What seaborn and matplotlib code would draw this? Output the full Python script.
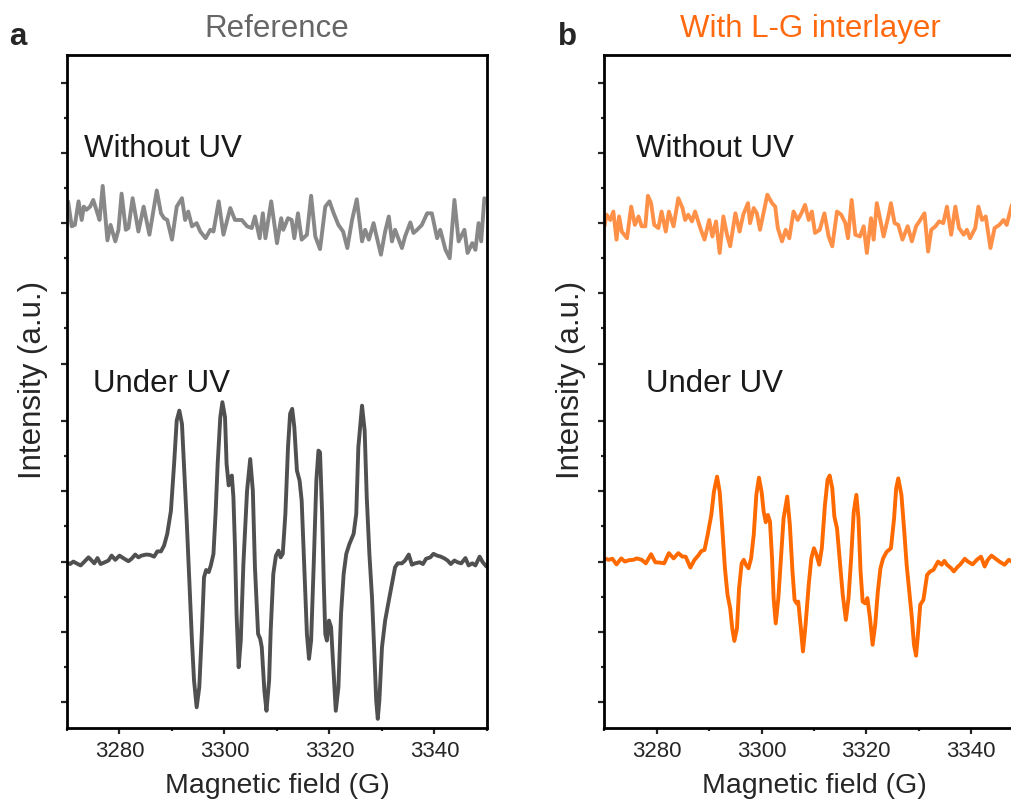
import numpy as np
import matplotlib.pyplot as plt
import seaborn as sns
from matplotlib.ticker import MultipleLocator, FixedLocator

# EPR spectra, field in G, intensity in a.u. (each trace relative to its own baseline)

# Reference, without UV
ref_field_dark = [
    3270.2, 3270.9, 3271.5, 3272.2, 3272.8, 3273.2, 3273.7, 3274.4, 3275.0, 3275.7,
    3276.2, 3276.8, 3277.7, 3278.3, 3279.2, 3279.8, 3280.4, 3281.2, 3281.7, 3282.5,
    3283.6, 3284.6, 3285.7, 3287.1, 3287.9, 3288.5, 3289.1, 3290.0, 3290.9, 3291.9,
    3292.5, 3293.1, 3293.8, 3294.7, 3295.4, 3296.4, 3297.3, 3297.9, 3298.9, 3299.8,
    3301.1, 3302.0, 3303.3, 3304.3, 3305.2, 3305.8, 3306.7, 3307.3, 3307.8, 3308.9,
    3310.0, 3310.8, 3311.2, 3312.1, 3312.8, 3313.3, 3314.0, 3314.7, 3315.7, 3316.5,
    3317.3, 3318.2, 3319.2, 3320.0, 3320.8, 3321.7, 3322.6, 3323.4, 3324.3, 3325.2,
    3326.2, 3326.8, 3327.5, 3328.4, 3328.9, 3329.8, 3330.6, 3331.3, 3331.9, 3332.5,
    3333.2, 3333.8, 3334.4, 3335.4, 3336.0, 3336.7, 3337.6, 3338.6, 3339.5, 3340.5,
    3341.1, 3342.1, 3342.9, 3343.8, 3344.6, 3345.7, 3346.3, 3347.2, 3347.8, 3348.4,
    3348.9, 3349.5]
ref_int_dark = [
    0.62, -0.09, -0.05, 0.62, 0.09, 0.47, 0.38, 0.47, 0.66, 0.33,
    0.09, 1.06, -0.49, -0.05, -0.52, -0.19, 0.84, -0.19, -0.14, 0.71,
    -0.24, 0.47, -0.33, 0.93, 0.28, 0.14, 0.09, -0.47, 0.47, 0.71,
    0.09, 0.33, -0.09, 0.00, -0.24, -0.43, -0.19, -0.24, 0.62, -0.33,
    0.43, 0.09, 0.09, -0.09, -0.14, 0.19, -0.43, 0.28, -0.43, 0.62,
    -0.57, 0.14, -0.19, 0.14, 0.09, -0.43, 0.28, -0.47, -0.33, 0.78,
    -0.38, -0.74, 0.47, 0.62, 0.28, -0.05, -0.24, -0.71, 0.09, 0.68,
    -0.52, -0.19, -0.47, 0.00, -0.33, -0.90, -0.24, 0.19, -0.52, -0.19,
    -0.47, -0.71, -0.38, 0.02, -0.28, -0.19, -0.05, 0.28, 0.28, -0.43,
    -0.19, -0.76, -1.00, 0.66, -0.52, -0.19, -0.85, -0.57, -0.76, 0.00,
    -0.52, 0.71]

# Reference, under UV
ref_field_uv = [
    3270.0, 3270.6, 3271.2, 3271.8, 3272.6, 3273.2, 3274.1, 3274.7, 3275.2, 3275.8,
    3276.4, 3277.2, 3277.9, 3278.5, 3279.2, 3280.0, 3280.7, 3281.7, 3282.3, 3283.0,
    3283.6, 3284.2, 3285.1, 3285.8, 3286.6, 3287.2, 3287.9, 3288.5,
    3289.1, 3289.8, 3290.4, 3290.9, 3291.4, 3291.9, 3292.3, 3292.8, 3293.3, 3293.8,
    3294.2, 3294.7, 3295.2, 3295.7, 3296.1, 3296.5, 3297.0, 3297.4, 3297.9, 3298.3,
    3298.7, 3299.2, 3299.6, 3300.1, 3300.4, 3300.8, 3301.1, 3301.4, 3301.7, 3302.0,
    3302.3, 3302.7, 3303.1, 3303.6, 3304.3, 3304.9, 3305.4, 3305.8, 3306.4, 3306.8,
    3307.1, 3307.6, 3308.0, 3308.5, 3308.8, 3309.3, 3309.8, 3310.3, 3310.7, 3311.1,
    3311.6, 3312.1, 3312.5, 3312.9, 3313.3, 3313.8, 3314.3, 3314.7, 3315.2, 3315.7,
    3316.1, 3316.5, 3317.0, 3317.5, 3317.9, 3318.2, 3318.6, 3318.9, 3319.2, 3319.5,
    3319.9, 3320.3, 3320.7, 3321.2, 3321.7, 3322.2, 3322.7, 3323.2, 3323.8, 3324.6,
    3325.1, 3325.5, 3326.2, 3326.7, 3327.1, 3327.6, 3328.1, 3328.5, 3328.9, 3329.2,
    3329.5, 3330.0, 3330.6, 3331.3, 3331.9, 3332.5, 3333.0, 3333.8, 3334.4, 3335.1,
    3335.7, 3336.3, 3337.2, 3337.8, 3338.4, 3339.2, 3339.8, 3340.5, 3341.2, 3341.9,
    3342.5, 3343.1, 3343.8, 3344.4, 3345.1, 3345.9, 3346.5, 3347.2, 3347.8, 3348.6,
    3349.2, 3349.9]
ref_int_uv = [
    -0.02, -0.07, 0.00, -0.05, -0.11, -0.02, 0.12, 0.03, -0.05, 0.10,
    -0.07, -0.02, 0.03, 0.17, 0.05, 0.17, 0.10, 0.01, 0.08, 0.20,
    0.12, 0.17, 0.20, 0.19, 0.14, 0.29, 0.29, 0.46,
    0.79, 1.45, 2.78, 4.02, 4.30, 3.92, 2.69, 1.17, -0.54, -2.25,
    -3.39, -4.15, -3.58, -1.97, -0.45, -0.24, -0.30, -0.11, 0.22, 1.36,
    2.78, 4.11, 4.54, 4.11, 2.78, 2.17, 2.40, 2.45, 1.83, 0.41,
    -1.49, -3.01, -2.25, -0.07, 2.02, 2.92, 2.02, -0.16, -2.06, -2.20,
    -2.44, -3.68, -4.25, -3.39, -1.97, -0.35, 0.17, 0.31, 0.12, 0.22,
    1.36, 3.26, 4.21, 4.35, 3.83, 2.59, 2.31, 1.74, -0.16, -2.06,
    -2.77, -2.25, -0.07, 2.31, 3.16, 3.11, 1.36, -0.54, -2.06, -2.25,
    -1.68, -1.87, -2.92, -4.25, -3.58, -1.49, -0.35, 0.22, 0.50, 0.79,
    1.36, 3.26, 4.44, 3.73, 1.83, 0.22, -1.02, -2.44, -3.96, -4.48,
    -3.96, -2.44, -1.68, -1.11, -0.64, -0.16, -0.05, -0.05, 0.03, 0.20,
    -0.09, -0.05, -0.02, -0.07, 0.08, 0.12, 0.22, 0.17, 0.14, 0.09,
    0.03, -0.07, 0.03, -0.02, -0.05, 0.10, -0.11, -0.05, -0.11, 0.14,
    -0.02, -0.14]

# With L-G interlayer, without UV
lg_field_dark = [
    3270.0, 3270.4, 3271.1, 3271.7, 3272.3, 3272.8, 3273.3, 3274.3, 3275.1, 3275.8,
    3276.5, 3277.1, 3277.8, 3278.3, 3278.9, 3279.5, 3280.3, 3280.9, 3281.7, 3282.3,
    3283.2, 3284.1, 3284.9, 3285.4, 3286.0, 3286.7, 3287.3, 3288.3, 3289.1, 3290.0,
    3290.6, 3291.3, 3292.0, 3292.7, 3293.4, 3294.0, 3295.0, 3295.8, 3296.5, 3297.4,
    3297.8, 3298.5, 3299.1, 3299.7, 3301.1, 3302.0, 3302.6, 3303.1, 3303.9, 3304.6,
    3305.3, 3306.1, 3306.9, 3307.6, 3308.3, 3309.0, 3309.6, 3310.2, 3311.1, 3312.0,
    3312.8, 3313.5, 3314.4, 3315.2, 3316.0, 3316.5, 3317.2, 3317.9, 3318.8, 3319.5,
    3320.1, 3320.9, 3321.4, 3322.0, 3322.6, 3323.3, 3324.2, 3324.7, 3325.4, 3326.1,
    3326.9, 3327.9, 3328.7, 3329.5, 3330.3, 3331.1, 3331.8, 3332.4, 3333.2, 3333.9,
    3334.7, 3335.4, 3336.2, 3337.0, 3337.7, 3338.6, 3339.2, 3339.8, 3340.8, 3341.4,
    3342.1, 3342.8, 3343.7, 3344.5, 3345.4, 3346.2, 3346.8, 3347.8]
lg_int_dark = [
    -0.09, 0.24, 0.09, 0.33, -0.47, 0.19, -0.24, -0.43, 0.47, -0.05,
    0.19, -0.09, -0.09, 0.78, 0.57, -0.05, -0.14, 0.33, -0.24, 0.33,
    -0.09, 0.71, 0.43, 0.09, 0.24, 0.05, 0.33, -0.14, -0.47, 0.09,
    -0.38, 0.05, -0.85, 0.19, -0.33, -0.66, 0.28, -0.24, 0.24, 0.57,
    0.00, 0.43, 0.28, -0.19, 0.81, 0.57, 0.47, -0.14, -0.52, -0.19,
    -0.43, 0.33, 0.09, 0.28, 0.52, 0.09, 0.33, -0.28, -0.19, 0.28,
    -0.38, -0.66, 0.33, 0.24, 0.00, -0.43, 0.66, -0.33, -0.38, -0.09,
    -0.85, 0.14, -0.47, 0.57, 0.14, -0.38, 0.19, 0.57, 0.00, -0.05,
    -0.47, -0.09, -0.52, -0.09, 0.09, 0.28, -0.81, -0.19, -0.09, 0.05,
    0.00, 0.47, -0.33, 0.47, -0.14, -0.33, -0.19, -0.43, -0.14, 0.47,
    0.09, 0.19, -0.71, -0.14, -0.05, 0.09, -0.05, 0.52]

# With L-G interlayer, under UV
lg_field_uv = [
    3270.0, 3270.8, 3271.5, 3272.3, 3273.2, 3273.9, 3274.7, 3275.5, 3276.2, 3277.1,
    3277.9, 3278.9, 3279.7, 3280.6, 3281.4, 3282.3, 3283.2, 3284.1, 3284.9, 3285.5,
    3286.4, 3287.2, 3287.9, 3288.5, 3289.1, 3289.7, 3290.4, 3290.9, 3291.5, 3292.0,
    3292.5, 3293.0, 3293.5, 3294.0, 3294.4, 3294.8, 3295.3, 3295.7, 3296.2, 3296.6,
    3297.0, 3297.5, 3298.0, 3298.5, 3299.0, 3299.5, 3300.0, 3300.4, 3300.8, 3301.2,
    3301.6, 3302.0, 3302.3, 3302.7, 3303.2, 3303.7, 3304.2, 3304.9, 3305.4, 3305.9,
    3306.3, 3306.7, 3307.0, 3307.5, 3307.9, 3308.4, 3309.0, 3309.5, 3310.0, 3310.5,
    3311.0, 3311.5, 3312.1, 3312.6, 3313.0, 3313.5, 3313.9, 3314.4, 3314.9, 3315.5,
    3316.1, 3316.6, 3317.1, 3317.6, 3318.1, 3318.5, 3318.9, 3319.3, 3319.8, 3320.2,
    3320.7, 3321.2, 3321.7, 3322.2, 3322.7, 3323.2, 3323.9, 3324.7, 3325.3, 3325.7,
    3326.1, 3326.7, 3327.2, 3327.7, 3328.2, 3328.7, 3329.1, 3329.5, 3329.8, 3330.3,
    3330.9, 3331.6, 3332.2, 3332.8, 3333.7, 3334.4, 3334.9, 3335.4, 3336.2, 3336.7,
    3337.5, 3337.9, 3338.8, 3339.4, 3340.3, 3341.1, 3341.9, 3342.6, 3343.2, 3343.9,
    3344.6, 3345.4, 3346.4, 3347.2, 3347.8]
lg_int_uv = [
    0.09, 0.05, 0.08, -0.08, 0.09, 0.00, 0.04, 0.05, 0.09, 0.05,
    -0.05, 0.21, -0.02, -0.03, -0.05, 0.24, 0.09, 0.24, 0.14, 0.14,
    -0.17, 0.05, 0.17, 0.30, 0.33, 0.76, 1.33, 1.99, 2.42, 1.99,
    0.95, -0.19, -0.95, -1.33, -1.90, -2.26, -1.90, -0.76, -0.05, 0.05,
    -0.09, -0.19, 0.09, 0.76, 1.90, 2.39, 1.99, 1.42, 1.12, 1.33,
    1.14, 0.09, -1.04, -1.76, -1.04, 0.09, 1.23, 1.85, 1.04, -0.28,
    -1.09, -1.19, -1.14, -1.90, -2.56, -1.80, -0.66, 0.09, 0.38, 0.19,
    -0.09, 0.38, 1.61, 2.33, 2.45, 2.09, 1.28, 0.95, 0.09, -0.95,
    -1.66, -1.04, 0.09, 1.42, 1.90, 1.23, -0.28, -1.14, -1.19, -1.04,
    -1.61, -2.37, -1.80, -0.85, -0.19, 0.09, 0.28, 0.38, 1.23, 2.09,
    2.37, 1.90, 0.95, -0.09, -0.85, -1.61, -2.37, -2.68, -2.18, -1.23,
    -1.09, -0.38, -0.28, -0.24, 0.00, -0.09, 0.02, -0.09, -0.19, -0.28,
    -0.14, -0.09, 0.08, 0.00, -0.08, 0.05, 0.14, -0.14, 0.05, 0.17,
    0.09, 0.00, -0.09, 0.05, 0.00]

DARK_SHIFT = 9.64  # "Without UV" trace is stacked above the UV one

sns.set_style("ticks")
plt.rcParams['font.family'] = ['Liberation Sans', 'DejaVu Sans']
plt.rcParams['axes.linewidth'] = 2.0


def style_axis(ax):
    ax.set_xlim(3270, 3350)
    ax.set_ylim(-4.74, 14.43)
    ax.xaxis.set_major_locator(MultipleLocator(20))
    ax.xaxis.set_minor_locator(MultipleLocator(10))
    lower = [-4, -2, 0, 2, 4]
    lower_minor = [-3, -1, 1, 3]
    ax.yaxis.set_major_locator(FixedLocator(lower + [v + DARK_SHIFT for v in lower]))
    ax.yaxis.set_minor_locator(FixedLocator(lower_minor + [v + DARK_SHIFT for v in lower_minor]))
    ax.tick_params(axis='both', which='major', direction='out', length=4.5, width=1.6,
                   labelsize=16, pad=5, top=False, right=False)
    ax.tick_params(axis='both', which='minor', direction='out', length=2.4, width=1.6,
                   top=False, right=False)
    ax.tick_params(axis='y', labelleft=False)
    for s in ax.spines.values():
        s.set_linewidth(2.0)
        s.set_color('black')
    ax.set_xlabel('Magnetic field (G)', fontsize=20.5, labelpad=8)
    ax.set_ylabel('Intensity (a.u.)', fontsize=22.5)
    ax.yaxis.set_label_coords(-0.045, 0.517)


def plot_panel(ax, f_dark, i_dark, f_uv, i_uv, c_dark, c_uv, label_x):
    # upper trace shifted by DARK_SHIFT so both spectra share one axis
    sns.lineplot(x=f_dark, y=np.array(i_dark) + DARK_SHIFT, ax=ax, color=c_dark,
                 lw=2.8, estimator=None, sort=False, solid_joinstyle='round')
    sns.lineplot(x=f_uv, y=np.array(i_uv), ax=ax, color=c_uv,
                 lw=2.8, estimator=None, sort=False, solid_joinstyle='round')
    style_axis(ax)
    ax.text(label_x[0], 0.848, 'Without UV', transform=ax.transAxes,
            fontsize=22.5, color='#1a1a1a', va='baseline')
    ax.text(label_x[1], 0.499, 'Under UV', transform=ax.transAxes,
            fontsize=22.5, color='#1a1a1a', va='baseline')


fig = plt.figure(figsize=(10.12, 8.06), dpi=100)
ax1 = fig.add_axes([0.0662, 0.0968, 0.415, 0.835])
ax2 = fig.add_axes([0.5973, 0.0968, 0.414, 0.835])  # right edge runs past the figure

plot_panel(ax1, ref_field_dark, ref_int_dark, ref_field_uv, ref_int_uv,
           '#888888', '#505050', (0.040, 0.062))
plot_panel(ax2, lg_field_dark, lg_int_dark, lg_field_uv, lg_int_uv,
           '#FF9048', '#FF6A00', (0.075, 0.099))

fig.text(0.2737, 0.954, 'Reference', ha='center', va='baseline', fontsize=22.5, color='#666666')
fig.text(0.8004, 0.954, 'With L-G interlayer', ha='center', va='baseline', fontsize=22.5, color='#FF6A10')
fig.text(0.009, 0.944, 'a', ha='left', va='baseline', fontsize=22.5, fontweight='bold')
fig.text(0.551, 0.944, 'b', ha='left', va='baseline', fontsize=22.5, fontweight='bold')

fig.savefig('out.png', dpi=100)
